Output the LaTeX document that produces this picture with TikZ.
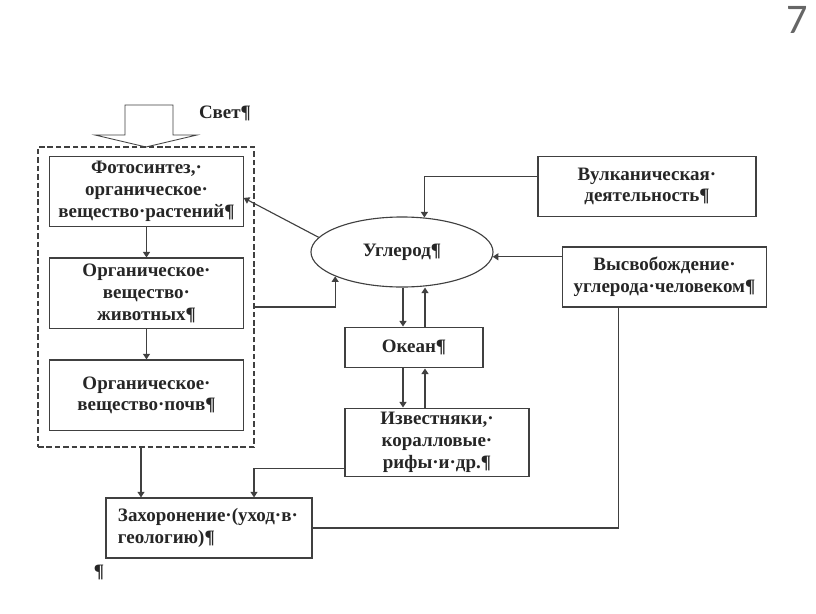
\documentclass[tikz,border=0pt]{standalone}
\usepackage{fontspec}
\setmainfont{Liberation Serif}
\newfontfamily\pagefont{Carlito}
\usetikzlibrary{arrows.meta,positioning,shapes.geometric}

\begin{document}
\begin{tikzpicture}[x=0.025cm,y=-0.025cm,node distance=0.75cm,
 >={Triangle[length=4pt,width=5pt]},
 color=black!75,line width=0.8pt,
 lbl/.style={font=\fontsize{13.5}{15.5}\selectfont\bfseries,text=black!85},
 box/.style={lbl,draw,rectangle,align=center,inner sep=2pt},
 colbox/.style={box,minimum width=4.83cm,minimum height=1.77cm}]
\fill[white] (0,0) rectangle (816,613);
\useasboundingbox (0,0) rectangle (816,613);

% page number
\node[font=\pagefont\fontsize{30}{30}\selectfont,text=black!60] (page) at (797,20) {7};

% light coming in
\draw[fill=white,line width=0.6pt] (125,105) -- (173,105) -- (173,135) -- (197,135)
 -- (146,147) -- (95,135) -- (125,135) -- cycle;
\node[lbl] (light) at (225,113) {Свет¶};

% living matter
\node[draw,dashed,dash pattern=on 4pt off 2pt,minimum width=5.4cm,minimum height=7.5cm] (bio) at (146,297) {};
\node[colbox] (plants) at (146.5,191.5) {Фотосинтез,·\\органическое·\\вещество·растений¶};
\node[colbox,below=of plants] (animals) {Органическое·\\вещество·\\животных¶};
\node[colbox,below=of animals] (soil) {Органическое·\\вещество·почв¶};

\node[lbl,draw,ellipse,minimum width=4.55cm,minimum height=1.75cm,inner sep=0pt] (ugl) at (402,252) {Углерод¶};
\node[box,minimum width=5.45cm,minimum height=1.52cm] (volc) at (647,186.5) {Вулканическая·\\деятельность¶};
\node[box,minimum width=5.12cm,minimum height=1.5cm] (human) at (664.5,277) {Высвобождение·\\углерода·человеком¶};
\node[box,minimum width=3.45cm,minimum height=1.02cm] (ocean) at (414,347.5) {Океан¶};
\node[box,minimum width=4.6cm,minimum height=1.72cm] (lime) at (437,442.5) {Известняки,·\\коралловые·\\рифы·и·др.¶};
\node[lbl,draw,rectangle,align=left,inner xsep=0.3cm,text width=4.55cm,minimum height=1.5cm] (burial) at (209,528) {Захоронение·(уход·в·\\геологию)¶};
\node[lbl] (mark) at (99,572) {¶};

% connectors
\draw[->] (ugl.170) -- ([yshift=-0.16cm]plants.east);
\draw[->] (plants) -- (animals);
\draw[->] (animals) -- (soil);
\draw[->] ([yshift=-0.25cm]bio.east) -| (ugl.200);
\draw[->] ([yshift=0.26cm]volc.west) -| (ugl.57);
\draw[->] (human.west |- ugl.357) -- (ugl.357);
\draw ([xshift=-1.16cm]human.south) |- (burial.east);
\coordinate (od) at ([xshift=-0.275cm]ocean.north);
\coordinate (ou) at ([xshift=0.275cm]ocean.north);
\draw[->] (od |- ugl.south) -- (od);
\draw[->] (ou) -- (ou |- ugl.south);
\draw[->] (od |- ocean.south) -- (od |- lime.north);
\draw[->] (ou |- lime.north) -- (ou |- ocean.south);
\draw[->] ([yshift=-0.64cm]lime.west) -| ([xshift=1.125cm]burial.north);
\coordinate (bd) at ([xshift=-0.125cm]bio.south);
\draw[->] (bd) -- (bd |- burial.north);
\end{tikzpicture}
\end{document}
